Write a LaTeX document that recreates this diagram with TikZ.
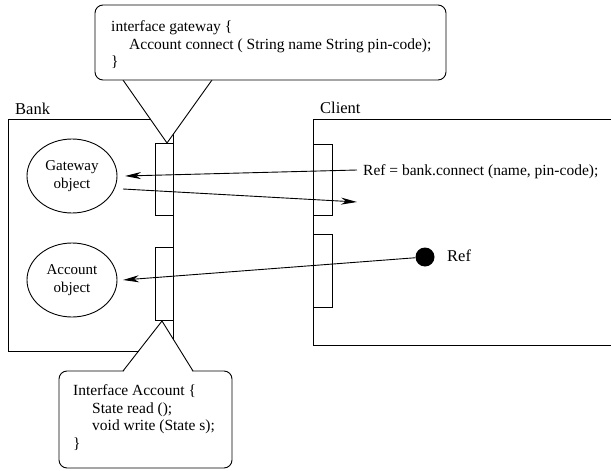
\documentclass[tikz,border=0pt]{standalone}
\usepackage{fontspec}
\setmainfont{Liberation Serif}
\usetikzlibrary{arrows.meta,shapes.geometric}
\tikzset{
  ln/.style={line width=0.9pt},
  arr/.style={ln,-{Stealth[length=16pt,width=7pt,inset=5pt]}},
  port/.style={ln,draw,rectangle,inner sep=0pt,minimum width=18pt,minimum height=72pt},
  obj/.style={ln,draw,ellipse,inner sep=0pt,minimum width=90pt,minimum height=74pt,align=center,font=\fontsize{15}{18}\selectfont},
  txt/.style={inner sep=0pt,anchor=base west,font=\fontsize{15.5}{17.5}\selectfont},
  lbl/.style={inner sep=0pt,anchor=base west,font=\fontsize{16.5}{18}\selectfont},
  cbox/.style={ln,draw,fill=white,rectangle,rounded corners=8pt,inner sep=0pt}
}
\begin{document}
\begin{tikzpicture}[x=1pt,y=-1pt]
\useasboundingbox (0,0) rectangle (611,471);
% Bank
\draw[ln] (8,119) rectangle (173,351);
\node[lbl] (banklbl) at (15,114) {Bank};
\node[port] (bp1) at (164,179) {};
\node[port,minimum height=73pt] (bp2) at (164,283.5) {};
\node[obj] (gw) at (72,176) {Gateway\\object};
\node[obj] (acc) at (72,280) {Account\\object};
% Client
\draw[ln] (611,119) -- (313,119) -- (313,345) -- (611,345);
\node[lbl] (clientlbl) at (320,113.5) {Client};
\node[port,minimum width=19pt,minimum height=71pt] (cp1) at (322.5,179.5) {};
\node[port,minimum width=19pt,minimum height=73pt] (cp2) at (322.5,270.5) {};
\node[txt] (reftext) at (363,175.5) {Ref = bank.connect (name, pin-code);};
\node[circle,fill=black,inner sep=0pt,minimum size=19pt] (dot) at (425,257) {};
\node[lbl] (reflbl) at (447,261) {Ref};
% connectors
\coordinate (r1) at (357,170);
\coordinate (gwin) at (125,176);
\coordinate (gwout) at (123,189);
\coordinate (r2) at (357,202);
\coordinate (accin) at (123,280);
\draw[arr] (r1) -- (gwin);
\draw[arr] (gwout) -- (r2);
\draw[arr] (dot) -- (accin);
% top callout
\coordinate (ta) at (123,80);
\coordinate (tb) at (212,80);
\coordinate (tapex) at (167,143);
\fill[white] (ta) -- (tapex) -- (tb) -- cycle;
\draw[ln] (ta) -- (tapex) -- (tb);
\node[cbox,minimum width=351pt,minimum height=75pt] (gwbox) at (270.5,42.5) {};
\node[txt] (g1) at (111,31.5) {interface gateway \{};
\node[txt] (g2) at (129,49) {Account connect ( String name String pin-code);};
\node[txt] (g3) at (111,66.5) {\}};
% bottom callout
\node[cbox,minimum width=173pt,minimum height=97pt] (accbox) at (145.5,419.5) {};
\coordinate (ba) at (123,371);
\coordinate (bb) at (193,371);
\coordinate (bapex) at (162,321);
\fill[white] (123.5,372) -- (bapex) -- (192.5,372) -- cycle;
\draw[ln] (ba) -- (bapex) -- (bb);
\node[txt] (a1) at (73,395.5) {Interface Account \{};
\node[txt] (a2) at (92,413) {State read ();};
\node[txt] (a3) at (92,430.5) {void write (State s);};
\node[txt] (a4) at (73,448) {\}};
\end{tikzpicture}
\end{document}
